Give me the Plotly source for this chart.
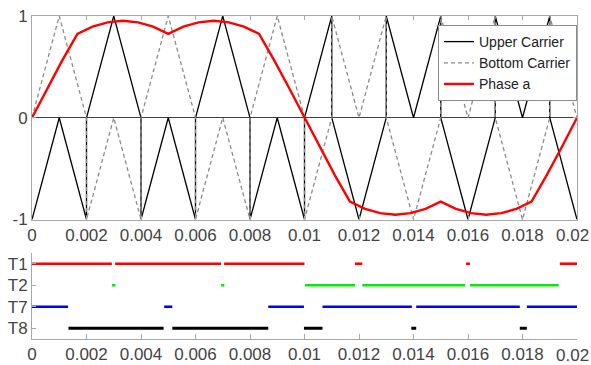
import plotly.graph_objects as go

# ---------------- data ----------------
carrier_t = [0, .001, .002, .002, .003, .004, .004, .005, .006, .006, .007, .008,
             .008, .009, .010, .010, .011, .011, .012, .013, .013, .014, .015,
             .015, .016, .017, .017, .018, .019, .019, .020]
upper_carrier = [-1, 0, -1, 0, 1, 0, -1, 0, -1, 0, 1, 0, -1, 0, -1, 0, 1,
                 0, -1, 0, 1, 0, 1, 0, -1, 0, 1, 0, 1, 0, -1]
bottom_carrier = [0, 1, 0, -1, 0, -1, 0, 1, 0, -1, 0, -1, 0, 1, 0, -1, 0,
                  1, 0, 1, 0, -1, 0, 1, 0, 1, 0, -1, 0, 1, 0]

phase_t = [i * 0.02 / 36 for i in range(37)]
phase_a = [0, 0.287, 0.564, 0.825, 0.895, 0.938, 0.953, 0.938, 0.895, 0.825,
           0.895, 0.938, 0.953, 0.938, 0.895, 0.825, 0.564, 0.287, 0,
           -0.287, -0.564, -0.825, -0.895, -0.938, -0.953, -0.938, -0.895, -0.825,
           -0.895, -0.938, -0.953, -0.938, -0.895, -0.825, -0.564, -0.287, 0]

switch_names = ["T1", "T2", "T7", "T8"]
switch_colors = ["#ff0000", "#00ee00", "#0000ff", "#000000"]
T1_on = [(0, 0.00293), (0.00305, 0.00694), (0.00705, 0.01), (0.01185, 0.01212),
         (0.01593, 0.01607), (0.01937, 0.02)]
T2_on = [(0.00294, 0.00306), (0.00694, 0.00706), (0.01002, 0.01185),
         (0.01212, 0.0159), (0.01607, 0.01933)]
T7_on = [(0, 0.00132), (0.00485, 0.00515), (0.00867, 0.00998), (0.01066, 0.01394),
         (0.0141, 0.0179), (0.01816, 0.02)]
T8_on = [(0.00134, 0.00483), (0.00515, 0.00867), (0.00998, 0.01066),
         (0.01392, 0.0141), (0.0179, 0.01816)]
switch_on = [T1_on, T2_on, T7_on, T8_on]

x_ticks = [0, 0.002, 0.004, 0.006, 0.008, 0.01, 0.012, 0.014, 0.016, 0.018, 0.02]
x_ticktext = ["0", "0.002", "0.004", "0.006", "0.008", "0.01", "0.012", "0.014",
              "0.016", "0.018", "0.02"]
y_ticks = [-1, 0, 1]
y_ticktext = ["-1", "0", "1"]

# ---------------- figure ----------------
W, H = 591, 365
L, R, T, B = 32, 14, 16, 26
PH = H - T - B
XR = [0, 0.0200001]

def ydom(top_px, bot_px):
    return [1 - (bot_px - T) / PH, 1 - (top_px - T) / PH]

fig = go.Figure()

fig.add_trace(go.Scatter(x=carrier_t, y=upper_carrier, mode="lines", name="Upper Carrier",
                         line=dict(color="#000000", width=1.3), xaxis="x", yaxis="y"))
fig.add_trace(go.Scatter(x=carrier_t, y=bottom_carrier, mode="lines", name="Bottom Carrier",
                         line=dict(color="#8a8a8a", width=1.3, dash="4px,3px"),
                         xaxis="x", yaxis="y"))
fig.add_trace(go.Scatter(x=phase_t, y=phase_a, mode="lines", name="Phase a",
                         line=dict(color="#ff0000", width=2.4), xaxis="x", yaxis="y"))

for name, color, intervals in zip(switch_names, switch_colors, switch_on):
    xs, ys = [], []
    for s, e in intervals:
        xs += [s, e, None]
        ys += [name, name, None]
    fig.add_trace(go.Scatter(x=xs, y=ys, mode="lines", showlegend=False,
                             line=dict(color=color, width=3 if name == "T8" else 2.6),
                             xaxis="x2", yaxis="y2"))

axcol = "#a8a8a8"
tickfont = dict(family="Liberation Sans, Arial, sans-serif", size=17, color="#444444")

# last x tick label is written as an annotation so it can sit just inside the page edge
shown_ticktext = x_ticktext[:-1] + [""]
edge_labels = [
    dict(x=x_ticks[-1], y=0, xref="x", yref="y domain", text=x_ticktext[-1],
         showarrow=False, xanchor="right", yanchor="top", xshift=590 - 577 + 1 - 0,
         yshift=-5, font=tickfont),
    dict(x=x_ticks[-1], y=0, xref="x2", yref="y2 domain", text=x_ticktext[-1],
         showarrow=False, xanchor="right", yanchor="top", xshift=590 - 577 + 1 - 0,
         yshift=-5, font=tickfont),
]

fig.update_layout(
    width=W, height=H,
    margin=dict(l=L, r=R, t=T, b=B, autoexpand=False),
    paper_bgcolor="white", plot_bgcolor="white",
    showlegend=True,
    annotations=edge_labels,
    legend=dict(x=1, xanchor="right", y=1 - (25 - T) / PH, yanchor="top",
                bgcolor="white", bordercolor="#8c8c8c", borderwidth=1,
                font=dict(family="Liberation Sans, Arial, sans-serif", size=14, color="#222222"),
                tracegroupgap=0),
    xaxis=dict(domain=[0, 1], range=XR, anchor="y", automargin=False,
               showline=True, linecolor=axcol, linewidth=1, mirror="ticks",
               ticks="inside", ticklen=4, tickcolor=axcol, ticklabeloverflow="allow",
               tickvals=x_ticks, ticktext=shown_ticktext, tickfont=tickfont,
               showgrid=False, zeroline=False),
    yaxis=dict(domain=ydom(16, 219.5), range=[-1, 1], anchor="x", automargin=False,
               showline=True, linecolor=axcol, linewidth=1, mirror="ticks",
               ticks="inside", ticklen=4, tickcolor=axcol,
               tickvals=y_ticks, ticktext=y_ticktext, tickfont=tickfont,
               showgrid=False, zeroline=True, zerolinecolor="#404040", zerolinewidth=1),
    xaxis2=dict(domain=[0, 1], range=XR, anchor="y2", automargin=False,
                showline=True, linecolor=axcol, linewidth=1,
                ticks="inside", ticklen=5, tickcolor=axcol, ticklabeloverflow="allow",
                tickvals=x_ticks, ticktext=shown_ticktext, tickfont=tickfont,
                showgrid=False, zeroline=False),
    yaxis2=dict(domain=ydom(253, 339), anchor="x2", automargin=False,
                type="category", categoryorder="array",
                categoryarray=switch_names[::-1], range=[-0.5, 3.5],
                showline=True, linecolor=axcol, linewidth=1,
                ticks="inside", ticklen=4, tickcolor=axcol, tickfont=tickfont,
                showgrid=False, zeroline=False),
)

fig.write_html("out.html", config={"displayModeBar": False},
               post_script="document.body.style.margin='0';document.body.style.padding='0';")
